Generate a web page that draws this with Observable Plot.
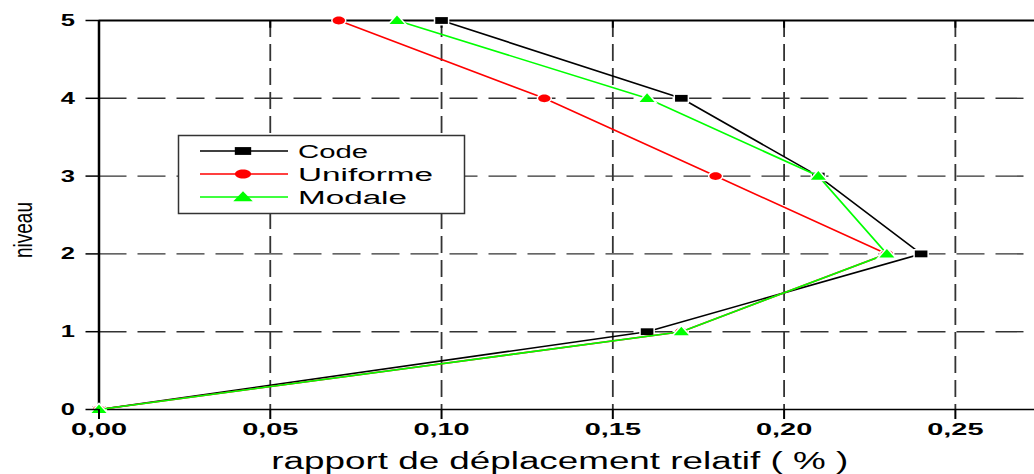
<!DOCTYPE html>
<html><head><meta charset="utf-8">
<script src="https://cdn.jsdelivr.net/npm/d3@7"></script>
<script src="https://cdn.jsdelivr.net/npm/@observablehq/plot@0.6"></script>
<style>html,body{margin:0;padding:0;background:#fff;overflow:hidden}</style>
</head><body><div id="chart"></div>
<script>
// ---- data ----
const levels = [0, 1, 2, 3, 4, 5];
const code = [0, 0.16, 0.24, 0.21, 0.17, 0.10];
const uniforme = [0, 0.17, 0.23, 0.18, 0.13, 0.07];
const modale = [0, 0.17, 0.23, 0.21, 0.16, 0.087];
const seriesNames = ["Code", "Uniforme", "Modale"];
const seriesColors = ["#000000", "#ff0000", "#00ff00"];
const xTicks = [0, 0.05, 0.10, 0.15, 0.20, 0.25];
const yTicks = [0, 1, 2, 3, 4, 5];
const xLabel = "rapport de déplacement relatif ( % )";
const yLabel = "niveau";

const seriesValues = [code, uniforme, modale];
const rows = [];
seriesNames.forEach((s, i) => levels.forEach((l, j) => rows.push({series: s, x: seriesValues[i][j], y: l})));

// custom marker shapes (scale s)
function squareSym(s){ return {draw(c){ const w=6.3*s, h=3.4*s; c.moveTo(-w,-h); c.lineTo(w,-h); c.lineTo(w,h); c.lineTo(-w,h); c.closePath(); }}; }
function ellipseSym(s){ return {draw(c){ const rx=6.2*s, ry=3.9*s, k=0.5523;
  c.moveTo(rx,0); c.bezierCurveTo(rx,ry*k,rx*k,ry,0,ry); c.bezierCurveTo(-rx*k,ry,-rx,ry*k,-rx,0);
  c.bezierCurveTo(-rx,-ry*k,-rx*k,-ry,0,-ry); c.bezierCurveTo(rx*k,-ry,rx,-ry*k,rx,0); c.closePath(); }}; }
function triSym(s){ return {draw(c){ c.moveTo(0,-5*s); c.lineTo(7.5*s,3.6*s); c.lineTo(-7.5*s,3.6*s); c.closePath(); }}; }
const symbolFns = [squareSym, ellipseSym, triSym];

const font = "'Liberation Sans', Arial, sans-serif";
const fmt = d => d.toFixed(2).replace(".", ",");

const marks = [
  Plot.gridX(xTicks.slice(1), {stroke: "#333", strokeOpacity: 1, strokeWidth: 1.8, strokeDasharray: "17,7"}),
  Plot.gridY(yTicks.slice(1, -1), {stroke: "#333", strokeOpacity: 1, strokeWidth: 1.4, strokeDasharray: "28,11"}),
  Plot.ruleX(xTicks.slice(1), {y1: 5, y2: 4.9, stroke: "#000", strokeWidth: 2}),
  Plot.ruleY([0], {stroke: "#000", strokeWidth: 1.5}),
  Plot.ruleY([5], {stroke: "#000", strokeWidth: 2}),
  Plot.ruleX([0], {stroke: "#000", strokeWidth: 2.5}),
];
seriesNames.forEach((s, i) => {
  const d = rows.filter(r => r.series === s);
  marks.push(Plot.line(d, {x: "x", y: "y", stroke: seriesColors[i], strokeWidth: 1.6}));
  marks.push(Plot.dot(d, {x: "x", y: "y", symbol: symbolFns[i](1), fill: seriesColors[i], stroke: "white", strokeWidth: 3, paintOrder: "stroke", r: 5}));
});
marks.push(
  Plot.axisX(xTicks, {tickSize: 10, tickPadding: 3, tickFormat: fmt, fontSize: 17, fontWeight: "bold", strokeWidth: 2,
    label: xLabel, labelAnchor: "center", labelOffset: 60, labelArrow: "none"}),
  Plot.axisY(yTicks, {tickSize: 13, tickPadding: 11, tickFormat: d => String(d), fontSize: 17, fontWeight: "bold", strokeWidth: 1.5,
    label: yLabel, labelAnchor: "center", labelOffset: 85, labelArrow: "none"})
);

const svg = Plot.plot({
  width: 1034, height: 474,
  marginLeft: 98.5, marginRight: 0, marginTop: 20, marginBottom: 65,
  x: {domain: [0, 0.2731]},
  y: {domain: [0, 5]},
  style: {fontFamily: font, background: "white", color: "#000", overflow: "visible"},
  marks
});
document.getElementById("chart").appendChild(svg);

function stretch(sel, factor) {
  sel.each(function(){ const w = this.getComputedTextLength(); this.setAttribute("textLength", w * factor); this.setAttribute("lengthAdjust", "spacingAndGlyphs"); });
}
function shift(sel, dx, dy) {
  const t = sel.attr("transform") || "";
  sel.attr("transform", `translate(${dx},${dy}) ${t}`);
}
const S = d3.select(svg);
stretch(S.selectAll('[aria-label="x-axis tick label"] text'), 1.7);
stretch(S.selectAll('[aria-label="y-axis tick label"] text'), 1.5);
const xl = S.selectAll('[aria-label="x-axis label"] text').attr("font-size", 23).attr("font-weight", "normal");
stretch(xl, 1.6);
shift(S.select('[aria-label="x-axis label"]'), -7, -1);
const yl = S.selectAll('[aria-label="y-axis label"] text').attr("font-size", 25).attr("font-weight", "normal");
stretch(yl, 0.76);
shift(S.select('[aria-label="y-axis label"]'), 0, 15);

// legend
const lg = S.append("g").attr("font-family", font).attr("text-anchor", "start");
lg.append("rect").attr("x", 178.5).attr("y", 135.5).attr("width", 286).attr("height", 78)
  .attr("fill", "white").attr("stroke", "#333").attr("stroke-width", 1.5);
const legendWidths = [70, 135, 109];
seriesNames.forEach((s, i) => {
  const yy = 151 + i * 23;
  lg.append("line").attr("x1", 200).attr("x2", 288).attr("y1", yy).attr("y2", yy).attr("stroke", seriesColors[i]).attr("stroke-width", 1.6);
  const p = d3.path(); symbolFns[i](1).draw(p);
  lg.append("path").attr("d", p.toString()).attr("transform", `translate(243,${yy}) scale(1.3,1.15)`).attr("fill", seriesColors[i]);
  lg.append("text").attr("x", 298).attr("y", yy + 7).attr("font-size", 18).attr("text-anchor", "start").text(s)
    .attr("textLength", legendWidths[i]).attr("lengthAdjust", "spacingAndGlyphs");
});
</script></body></html>
